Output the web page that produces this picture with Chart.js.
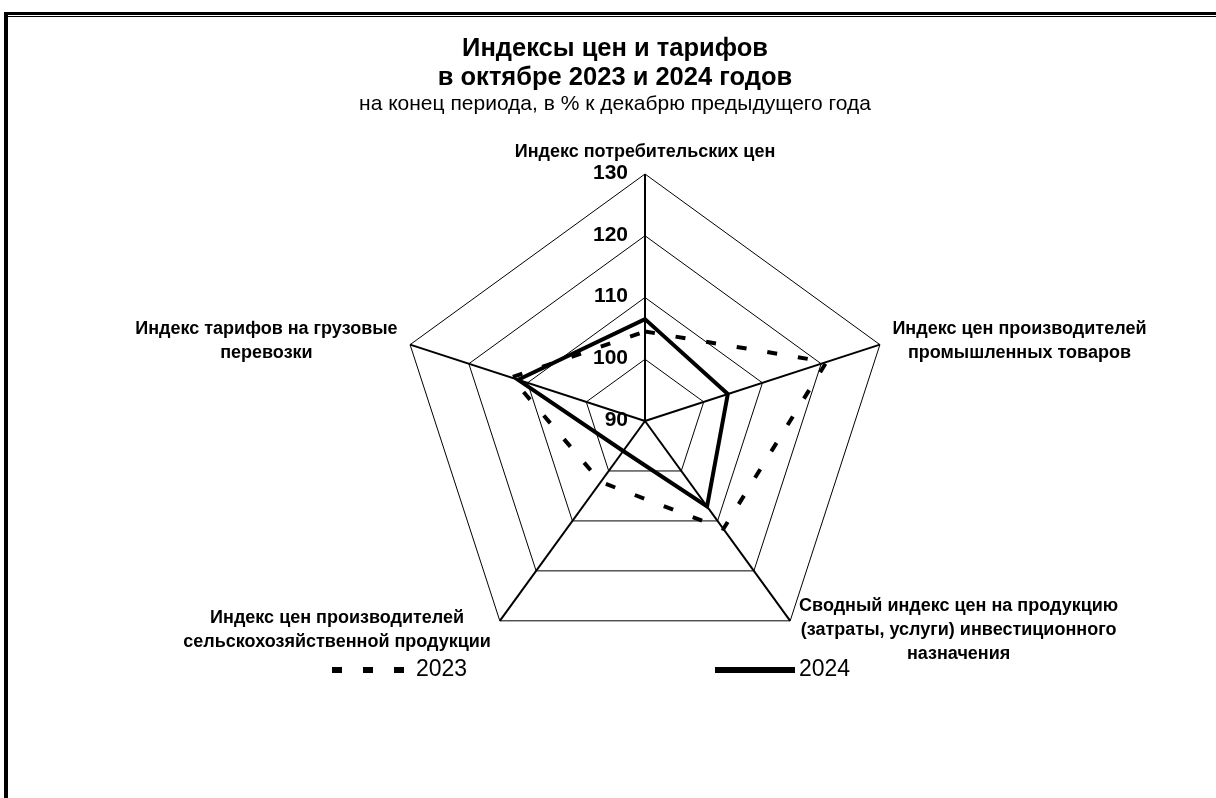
<!DOCTYPE html>
<html lang="ru">
<head>
  <meta charset="UTF-8">
  <title>Индексы цен и тарифов</title>
  <script src="https://cdn.jsdelivr.net/npm/chart.js"></script>
  <style>
    html, body {
      margin: 0;
      width: 1216px;
      height: 798px;
      overflow: hidden;
      background: #fff;
      font-family: 'Liberation Sans', Arial, sans-serif;
    }
    .frame-top {
      position: absolute; left: 4px; top: 12px; width: 1300px;
      border-top: 3px solid #000;
    }
    .frame-top2 {
      position: absolute; left: 4px; top: 16px; width: 1300px;
      border-top: 1px solid #000;
    }
    .frame-left {
      position: absolute; left: 4px; top: 12px; height: 900px;
      border-left: 4px solid #000;
    }
    .heading {
      position: absolute; left: 0; width: 1230px;
      text-align: center; color: #000;
    }
    #title { top: 33px; font-weight: bold; font-size: 25.5px; line-height: 29px; }
    #subtitle { top: 92px; font-size: 21px; line-height: 22px; }
    #chart { position: absolute; left: 0; top: 0; }
  </style>
</head>
<body>
<canvas id="chart" width="1216" height="798"></canvas>
<div class="frame-top"></div>
<div class="frame-top2"></div>
<div class="frame-left"></div>
<div class="heading" id="title">Индексы цен и тарифов<br>в октябре 2023 и 2024 годов</div>
<div class="heading" id="subtitle">на конец периода, в % к декабрю предыдущего года</div>

<script>
  // axes of the radar (one array per label line)
  const categories = [
    ['Индекс потребительских цен'],
    ['Индекс цен производителей', 'промышленных товаров'],
    ['Сводный индекс цен на продукцию', '(затраты, услуги) инвестиционного', 'назначения'],
    ['Индекс цен производителей', 'сельскохозяйственной продукции'],
    ['Индекс тарифов на грузовые', 'перевозки']
  ];
  const values2023 = [104.5, 120.9, 111.6, 102.2, 112.8];
  const values2024 = [106.5, 104.1, 107.1, 96.0, 111.6];
  const tickValues = [90, 100, 110, 120, 130];

  const FONT = "'Liberation Sans', Arial, sans-serif";

  // tick numbers and axis captions, drawn next to the radial scale
  const axisText = {
    id: 'axisText',
    afterDraw(chart) {
      const r = chart.scales.r;
      const ctx = chart.ctx;
      ctx.save();
      ctx.fillStyle = '#000';
      ctx.font = 'bold 21px ' + FONT;
      ctx.textAlign = 'right';
      ctx.textBaseline = 'middle';
      tickValues.forEach(v => {
        const d = r.getDistanceFromCenterForValue(v);
        ctx.fillText(String(v), r.xCenter - 17, r.yCenter - d - 1);
      });

      ctx.font = 'bold 18px ' + FONT;
      ctx.textAlign = 'center';
      const lh = 24;
      categories.forEach((lines, i) => {
        const p = r.getPointPosition(i, r.drawingArea);
        const a = r.getIndexAngle(i) - Math.PI / 2;
        const cos = Math.cos(a), sin = Math.sin(a);
        const w = Math.max(...lines.map(t => ctx.measureText(t).width));
        const h = lh * lines.length;
        let cx, cy;
        if (Math.abs(cos) < 0.01) {
          cx = p.x;
          cy = p.y - 10 - h / 2;
        } else {
          const gap = 3 + 10 * Math.abs(cos);
          cx = cos > 0 ? p.x + gap + w / 2 : p.x - gap - w / 2;
          cy = p.y + 11 * sin;
        }
        lines.forEach((t, k) => ctx.fillText(t, cx, cy - h / 2 + lh * (k + 0.5)));
      });
      ctx.restore();
    }
  };

  // line-sample legend under the radar
  const lineLegend = {
    id: 'lineLegend',
    afterDraw(chart, args, opts) {
      const ctx = chart.ctx;
      ctx.save();
      ctx.font = opts.fontSize + 'px ' + FONT;
      ctx.textBaseline = 'middle';
      ctx.fillStyle = '#000';
      chart.data.datasets.forEach((ds, i) => {
        const x = opts.x[i], y = opts.y;
        ctx.setLineDash(ds.borderDash || []);
        ctx.lineWidth = opts.lineWidth;
        ctx.strokeStyle = ds.borderColor;
        ctx.beginPath();
        ctx.moveTo(x, y);
        ctx.lineTo(x + opts.sample, y);
        ctx.stroke();
        ctx.setLineDash([]);
        ctx.fillText(ds.label, x + opts.sample + 4, y);
      });
      ctx.restore();
    }
  };

  new Chart(document.getElementById('chart'), {
    type: 'radar',
    data: {
      labels: categories,
      datasets: [
        {
          label: '2023',
          data: values2023,
          borderColor: '#000',
          backgroundColor: 'rgba(0,0,0,0)',
          borderWidth: 4,
          borderDash: [10, 21],
          fill: false
        },
        {
          label: '2024',
          data: values2024,
          borderColor: '#000',
          backgroundColor: 'rgba(0,0,0,0)',
          borderWidth: 4,
          fill: false
        }
      ]
    },
    options: {
      responsive: false,
      animation: false,
      layout: { padding: { left: 398, right: 324, top: 174, bottom: 130 } },
      elements: {
        line: { tension: 0 },
        point: { radius: 0, hoverRadius: 0 }
      },
      plugins: {
        legend: { display: false },
        tooltip: { enabled: false },
        lineLegend: { x: [332, 715], y: 670, sample: 80, lineWidth: 6, fontSize: 23 }
      },
      scales: {
        r: {
          min: 90,
          max: 130,
          ticks: { stepSize: 10, display: false },
          grid: { color: '#000', lineWidth: 1 },
          angleLines: { color: '#000', lineWidth: 2 },
          pointLabels: { display: false }
        }
      }
    },
    plugins: [axisText, lineLegend]
  });
</script>
</body>
</html>
